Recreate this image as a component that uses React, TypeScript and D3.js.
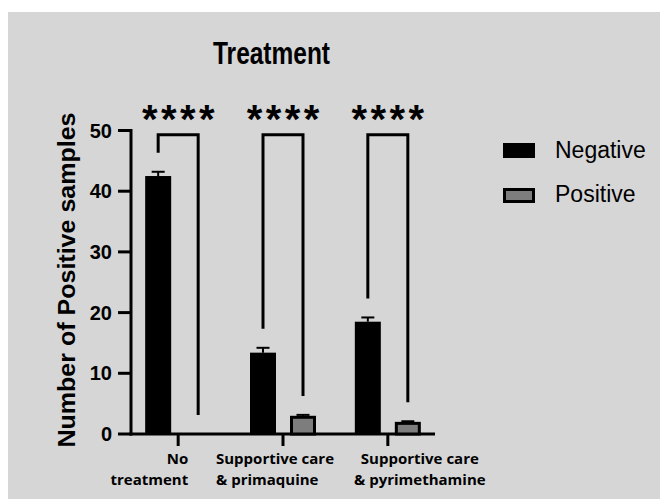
import React from "react";
import * as d3 from "d3";

// Treatment groups and measured values (mean ± SEM)
const categories = ["No treatment", "Supportive care & primaquine", "Supportive care & pyrimethamine"];
const labelLines = [
  ["No", "treatment"],
  ["Supportive care", "& primaquine"],
  ["Supportive care", "& pyrimethamine"],
];
const negativeValues = [42.5, 13.4, 18.5];
const negativeErrors = [0.7, 0.8, 0.7];
const positiveValues = [0, 3.0, 2.0];
const positiveErrors = [0, 0.15, 0.1];
const significance = ["****", "****", "****"];
const yTicks = [0, 10, 20, 30, 40, 50];
const seriesNames = ["Negative", "Positive"];

const W = 660;
const H = 499;
const BG = "#d6d6d6";
const POS_FILL = "#7d7d7d";

export default function App() {
  const y = d3.scaleLinear().domain([0, 50]).range([434, 130.5]);
  const x = d3.scalePoint<string>().domain(categories).range([131, 435]).padding(0.45);
  const barW = 26;
  const offset = 20;
  const bracketTop = y(49.3);
  const gap = 19;

  return (
    <svg
      width={W}
      height={H}
      style={{ position: "absolute", left: 0, top: 0 }}
      fontFamily="'Liberation Sans', Arial, sans-serif"
    >
      <rect x={0} y={0} width={W} height={H} fill="#ffffff" />
      <rect x={8} y={12} width={W - 8} height={H - 12} fill={BG} />

      {/* Title */}
      <text
        x={271.5}
        y={64}
        textAnchor="middle"
        fontSize={31}
        fontWeight="bold"
        textLength={117}
        lengthAdjust="spacingAndGlyphs"
      >
        Treatment
      </text>

      {/* Y axis */}
      <line x1={131} x2={131} y1={y(50) - 1.5} y2={y(0) + 1.5} stroke="#000" strokeWidth={3} />
      {yTicks.map((t) => (
        <g key={t}>
          <line x1={118} x2={131} y1={y(t)} y2={y(t)} stroke="#000" strokeWidth={3} />
          <text x={112} y={y(t) + 7} textAnchor="end" fontSize={20} fontWeight="bold">
            {t}
          </text>
        </g>
      ))}
      <text
        transform={`translate(75,280) rotate(-90)`}
        textAnchor="middle"
        fontSize={24}
        fontWeight="bold"
        textLength={335}
        lengthAdjust="spacingAndGlyphs"
      >
        Number of Positive samples
      </text>

      {/* X axis */}
      <line x1={129.5} x2={435} y1={y(0)} y2={y(0)} stroke="#000" strokeWidth={3} />
      {categories.map((c) => (
        <line key={c} x1={x(c)!} x2={x(c)!} y1={y(0)} y2={y(0) + 12} stroke="#000" strokeWidth={3} />
      ))}

      {/* Category labels */}
      <g fontFamily="'Open Sans', sans-serif" fontWeight="bold" fontSize={15}>
        <text x={x(categories[0])! + 10} y={464} textAnchor="end">{labelLines[0][0]}</text>
        <text x={x(categories[0])! + 10} y={485} textAnchor="end">{labelLines[0][1]}</text>
        <text x={x(categories[1])! - 67} y={464} textAnchor="start">{labelLines[1][0]}</text>
        <text x={x(categories[1])! - 67} y={485} textAnchor="start">{labelLines[1][1]}</text>
        <text x={x(categories[2])! + 32} y={464} textAnchor="middle">{labelLines[2][0]}</text>
        <text x={x(categories[2])! + 32} y={485} textAnchor="middle">{labelLines[2][1]}</text>
      </g>

      {/* Bars with error bars */}
      {categories.map((c, i) => {
        const cxN = x(c)! - offset;
        const cxP = x(c)! + offset;
        const nv = negativeValues[i];
        const pv = positiveValues[i];
        const ne = negativeErrors[i];
        const pe = positiveErrors[i];
        return (
          <g key={c}>
            <line x1={cxN} x2={cxN} y1={y(nv)} y2={y(nv + ne)} stroke="#000" strokeWidth={2} />
            <line x1={cxN - 6.5} x2={cxN + 6.5} y1={y(nv + ne)} y2={y(nv + ne)} stroke="#000" strokeWidth={2} />
            <rect x={cxN - barW / 2} y={y(nv)} width={barW} height={y(0) - y(nv)} fill="#000" />
            {pv > 0 && (
              <g>
                <line x1={cxP} x2={cxP} y1={y(pv)} y2={y(pv + pe)} stroke="#000" strokeWidth={2} />
                <line x1={cxP - 6.5} x2={cxP + 6.5} y1={y(pv + pe)} y2={y(pv + pe)} stroke="#000" strokeWidth={2} />
                <rect
                  x={cxP - barW / 2 + 1.5}
                  y={y(pv) + 1.5}
                  width={barW - 3}
                  height={y(0) - y(pv) - 1.5}
                  fill={POS_FILL}
                  stroke="#000"
                  strokeWidth={3}
                />
              </g>
            )}
          </g>
        );
      })}

      {/* Significance brackets */}
      {categories.map((c, i) => {
        const cxN = x(c)! - offset;
        const cxP = x(c)! + offset;
        const leftEnd = y(negativeValues[i] + negativeErrors[i]) - gap;
        const rightEnd = y(positiveValues[i] + positiveErrors[i]) - gap;
        const mid = x(c)!;
        return (
          <g key={c}>
            <path
              d={`M${cxN},${leftEnd}V${bracketTop}H${cxP}V${rightEnd}`}
              fill="none"
              stroke="#000"
              strokeWidth={3}
            />
            {significance[i].split("").map((s, k) => (
              <text key={k} x={mid + (k - 1.5) * 19} y={133} textAnchor="middle" fontSize={40} fontWeight="bold">
                {s}
              </text>
            ))}
          </g>
        );
      })}

      {/* Legend */}
      <rect x={503} y={143} width={32} height={15} fill="#000" />
      <text x={555} y={158} fontSize={23}>{seriesNames[0]}</text>
      <rect x={504.5} y={189.5} width={29} height={12} fill={POS_FILL} stroke="#000" strokeWidth={3} />
      <text x={555} y={202} fontSize={23}>{seriesNames[1]}</text>
    </svg>
  );
}
